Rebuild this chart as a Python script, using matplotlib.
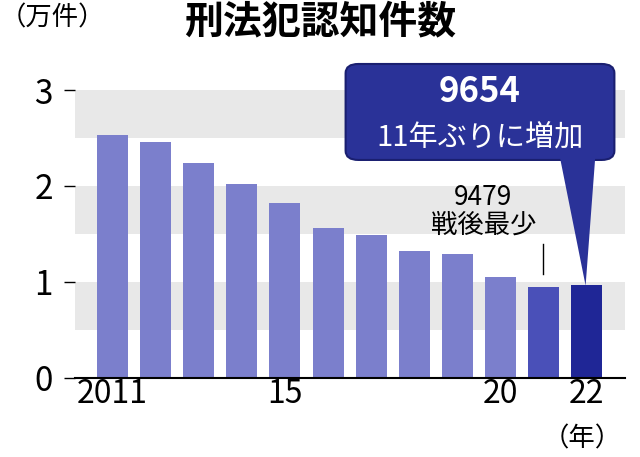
import matplotlib
matplotlib.use("Agg")
import matplotlib.pyplot as plt
from matplotlib.patches import FancyBboxPatch, Polygon

plt.rcParams['font.family'] = ['Noto Sans CJK JP', 'DejaVu Sans']

years = list(range(2011, 2023))
values = [2.53, 2.46, 2.24, 2.02, 1.82, 1.56, 1.49, 1.32, 1.29, 1.05, 0.9479, 0.9654]
colors = ['#7b7fcc'] * 10 + ['#4a50b8', '#1f2696']
xtick_labels = {2011: '2011', 2015: '15', 2020: '20', 2022: '22'}

fig = plt.figure(figsize=(6.4, 4.57), dpi=100)
ax = fig.add_axes([0.117, 0.173, 0.86, 0.63])
ax.set_xlim(2011 - 0.87, 2011 + 11.89)
ax.set_ylim(0, 3)
for lo in [0.5, 1.5, 2.5]:
    ax.axhspan(lo, lo + 0.5, color='#e8e8e8', zorder=0, lw=0)
ax.bar(years, values, width=0.72, color=colors, zorder=2)
for s in ['top', 'right', 'left']:
    ax.spines[s].set_visible(False)
ax.spines['bottom'].set_linewidth(1.5)
ax.set_yticks([0, 1, 2, 3])
ax.set_yticklabels(['0', '1', '2', '3'], fontsize=24)
ax.tick_params(axis='y', length=8, width=1, pad=8)
ax.set_xticks(list(xtick_labels.keys()))
ax.set_xticklabels(list(xtick_labels.values()), fontsize=23)
ax.tick_params(axis='x', length=0, pad=0)

fig.text(0.5, 0.995, '刑法犯認知件数', ha='center', va='top', fontsize=28, fontweight='bold')
fig.text(0.0, 0.99, '（万件）', ha='left', va='top', fontsize=19)
fig.text(0.91, 0.01, '（年）', ha='center', va='bottom', fontsize=19)

# 9479 annotation
ax.text(2019.6, 1.45, '9479\n戦後最少', ha='center', va='bottom', fontsize=19, linespacing=1.05)
ax.plot([2020.98, 2020.98], [1.08, 1.4], color='black', lw=1)

# callout box
box = FancyBboxPatch((0.54, 0.65), 0.42, 0.21, boxstyle='round,pad=0,rounding_size=0.02',
                     transform=fig.transFigure, facecolor='#2a3298', edgecolor='#1a1f70', lw=1.5)
fig.patches.append(box)
tail = Polygon([(0.875, 0.655), (0.93, 0.655), (0.915, 0.375)], closed=True,
               transform=fig.transFigure, facecolor='#2a3298', edgecolor='none')
fig.patches.append(tail)
fig.text(0.75, 0.80, '9654', ha='center', va='center', fontsize=25, color='white', fontweight='bold')
fig.text(0.75, 0.70, '11年ぶりに増加', ha='center', va='center', fontsize=21, color='white')

fig.savefig('out.png', dpi=100)
